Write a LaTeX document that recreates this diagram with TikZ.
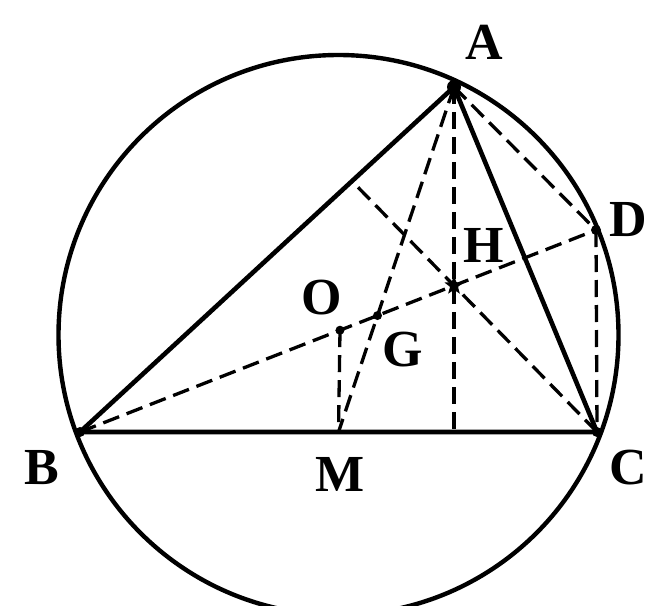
\documentclass[tikz,border=0pt]{standalone}
\usepackage{fontspec}
\setmainfont{Liberation Serif}
\usetikzlibrary{shapes.geometric,calc}
\begin{document}
\begin{tikzpicture}[x=1pt,y=-1pt,
  solidline/.style={line width=4.6pt, line join=round},
  circline/.style={line width=4.4pt},
  dashline/.style={line width=3.3pt, dash pattern=on 17pt off 8pt},
  lbl/.style={font=\bfseries\fontsize{52}{52}\selectfont, inner sep=0pt},
  dot/.style={circle, fill=black, inner sep=0pt, minimum size=10pt},
  starpt/.style={star, star points=5, star point ratio=2.4, fill=black, inner sep=0pt, minimum size=20pt}]
\useasboundingbox (0,0) rectangle (650,605);
\clip (0,0) rectangle (650,605);
% circle
\coordinate (Oc) at (338.5,335);
\draw[circline] (Oc) circle[radius=280];
% points
\coordinate (A) at (454,87);
\coordinate (B) at (80,432);
\coordinate (C) at (597,432);
\coordinate (D) at (596,230);
\coordinate (M) at ($(B)!0.5!(C)$);
\coordinate (O) at (340,330.2);
\coordinate (H) at (454,285.6);
\coordinate (G) at (intersection of A--M and B--D);
\coordinate (E) at (A |- B);
\coordinate (F) at (intersection of A--B and C--H);
% dashed lines
\draw[dashline] (B) -- (D);
\draw[dashline] (A) -- (M);
\draw[dashline] (A) -- (E);
\draw[dashline] (O) -- (M);
\draw[dashline] (C) -- (F);
\draw[dashline] (A) -- (D);
\draw[dashline] (D) -- (C);
% triangle
\draw[solidline] (A) -- (B) -- (C) -- cycle;
% markers
\node[dot, minimum size=14pt] (pA) at (A) {};
\node[dot] (pB) at (B) {};
\node[dot] (pC) at (C) {};
\node[dot] (pD) at (D) {};
\node[dot, minimum size=9pt] (pO) at (O) {};
\node[dot, minimum size=9pt] (pG) at (G) {};
\node[starpt] (pH) at (H) {};
% labels
\node[lbl] (lA) at (484,42) {A};
\node[lbl] (lB) at (42,468) {B};
\node[lbl] (lM) at (340,474) {M};
\node[lbl] (lC) at (628,468) {C};
\node[lbl] (lD) at (628,220) {D};
\node[lbl] (lH) at (484,245) {H};
\node[lbl] (lO) at (322,298) {O};
\node[lbl] (lG) at (403,350) {G};
\end{tikzpicture}
\end{document}
